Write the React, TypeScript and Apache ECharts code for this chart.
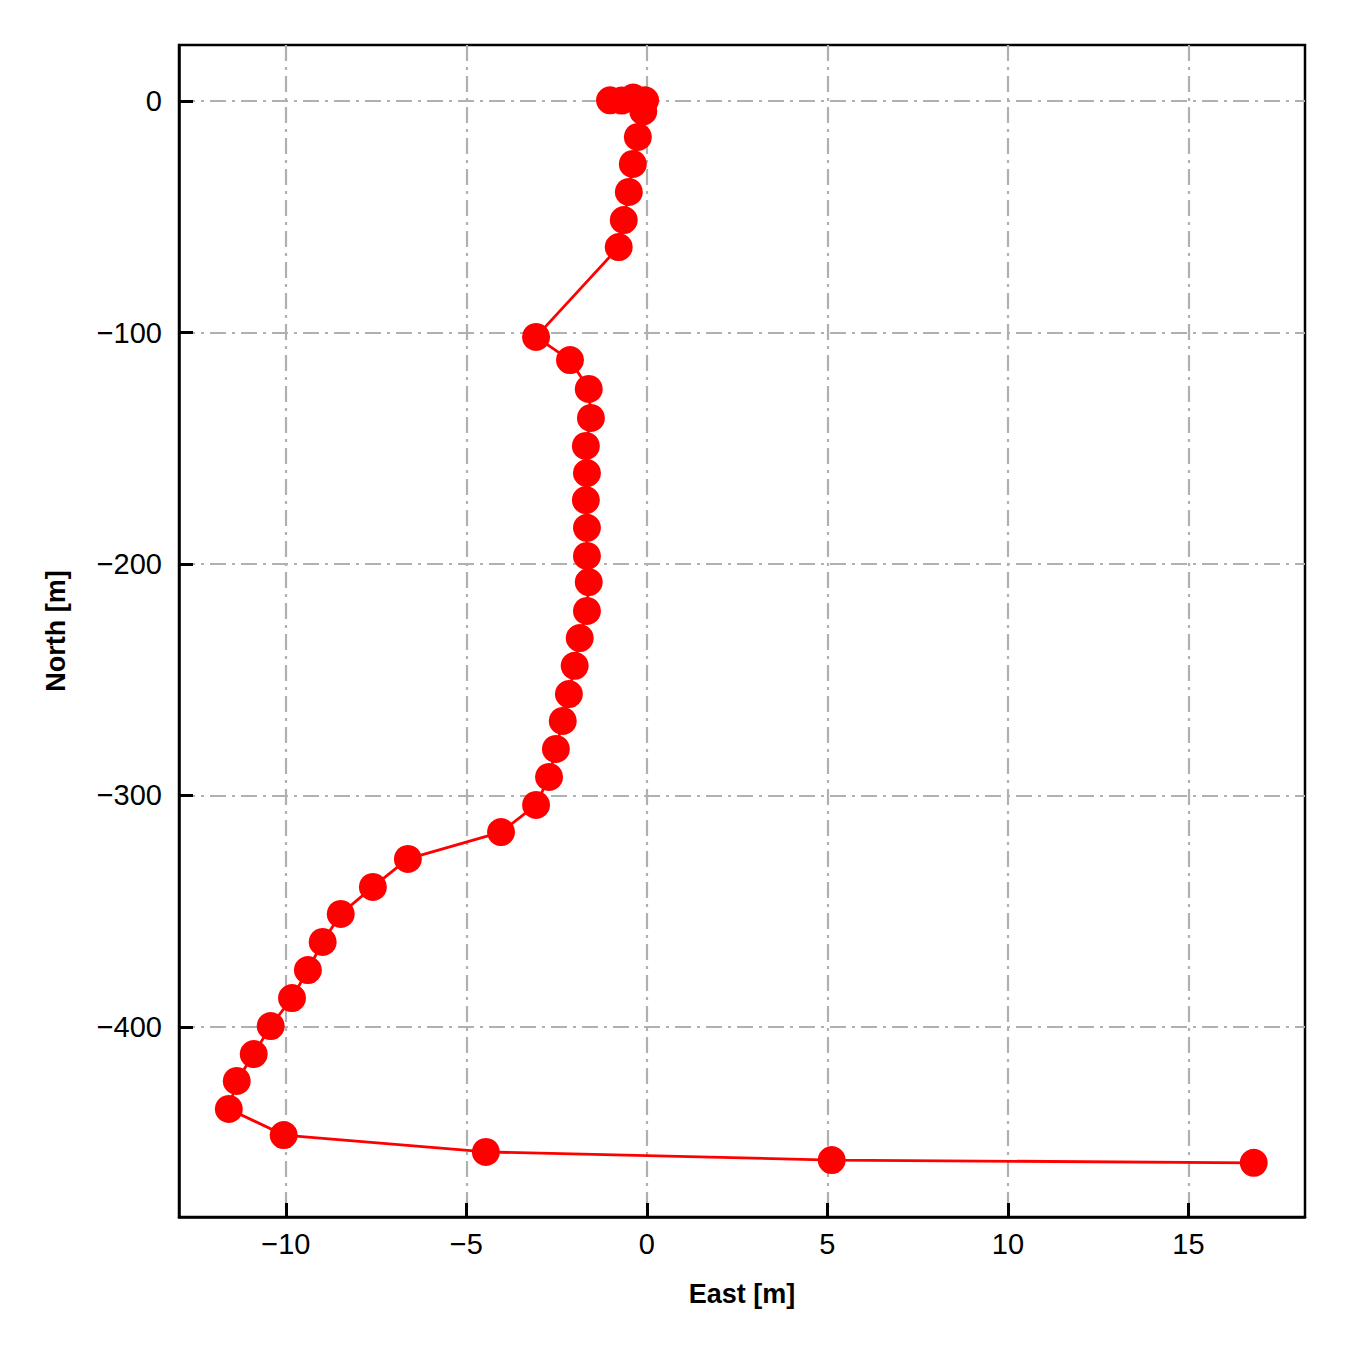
import React, { useEffect, useRef } from "react";
import * as echarts from "echarts";

const eastValues = [
  -1.02, -0.7, -0.38, -0.05, -0.1, -0.25, -0.39, -0.5, -0.64, -0.78,
  -3.07, -2.13, -1.61, -1.55, -1.69, -1.66, -1.69, -1.66, -1.66, -1.61,
  -1.66, -1.86, -2.0, -2.16, -2.33, -2.52, -2.71, -3.07, -4.04, -6.62,
  -7.59, -8.48, -8.98, -9.39, -9.83, -10.42, -10.89, -11.36, -11.58, -10.06,
  -4.46, 5.12, 16.81,
];
const northValues = [
  0.3, 0.2, 1.5, 0.3, -4.5, -15.5, -27.2, -39.3, -51.4, -63.1,
  -101.9, -111.9, -124.4, -136.9, -149.0, -160.7, -172.4, -184.4, -196.5, -207.8,
  -220.3, -232.0, -244.0, -256.2, -267.8, -279.9, -292.0, -304.1, -315.8, -327.4,
  -339.5, -351.2, -363.3, -375.4, -387.5, -399.6, -411.7, -423.3, -435.4, -446.7,
  -454.0, -457.5, -458.7,
];
const eastTicks = [-10, -5, 0, 5, 10, 15];
const northTicks = [-400, -300, -200, -100, 0];

const fmt = (v: number) => (v < 0 ? "\u2212" + Math.abs(v) : String(v));

export default function App() {
  const ref = useRef<HTMLDivElement>(null);
  useEffect(() => {
    if (!ref.current) return;
    const chart = echarts.init(ref.current, undefined, { renderer: "svg" });
    const gridLine = {
      show: true,
      lineStyle: { color: "#b0b0b0", width: 2.2, type: [16, 6, 3, 6] as any },
    };
    chart.setOption({
      animation: false,
      backgroundColor: "#ffffff",
      textStyle: { fontFamily: "Liberation Sans, Arial, sans-serif" },
      grid: {
        left: 179,
        top: 45,
        width: 1126,
        height: 1172,
        show: true,
        borderColor: "#000",
        borderWidth: 2.5,
        backgroundColor: "transparent",
        containLabel: false,
      },
      xAxis: {
        type: "value",
        position: "bottom",
        min: -12.96,
        max: 18.23,
        name: "East [m]",
        nameLocation: "middle",
        nameGap: 63,
        nameTextStyle: { fontSize: 27, fontWeight: "bold", color: "#000" },
        axisLine: { show: true, onZero: false, lineStyle: { color: "#000", width: 2.5 } },
        axisTick: {
          show: true,
          inside: true,
          length: 14,
          customValues: eastTicks,
          lineStyle: { color: "#000", width: 3 },
        },
        axisLabel: {
          customValues: eastTicks,
          formatter: fmt,
          fontSize: 29,
          color: "#000",
          margin: 12,
        },
        splitLine: gridLine,
      },
      yAxis: {
        type: "value",
        position: "left",
        min: -482.1,
        max: 24.2,
        name: "North [m]",
        nameLocation: "middle",
        nameGap: 110,
        nameTextStyle: { fontSize: 27, fontWeight: "bold", color: "#000" },
        axisLine: { show: true, onZero: false, lineStyle: { color: "#000", width: 2.5 } },
        axisTick: {
          show: true,
          inside: true,
          length: 14,
          customValues: northTicks,
          lineStyle: { color: "#000", width: 3 },
        },
        axisLabel: {
          customValues: northTicks,
          formatter: fmt,
          fontSize: 29,
          color: "#000",
          margin: 17,
        },
        splitLine: gridLine,
      },
      series: [
        {
          type: "line",
          data: eastValues.map((e, i) => [e, northValues[i]]),
          symbol: "circle",
          symbolSize: 28,
          itemStyle: { color: "#ff0000" },
          lineStyle: { color: "#ff0000", width: 2.8 },
          clip: false,
          z: 3,
        },
      ],
    });
    return () => chart.dispose();
  }, []);
  return (
    <div
      ref={ref}
      style={{ position: "absolute", left: 0, top: 0, width: 1350, height: 1350 }}
    />
  );
}
